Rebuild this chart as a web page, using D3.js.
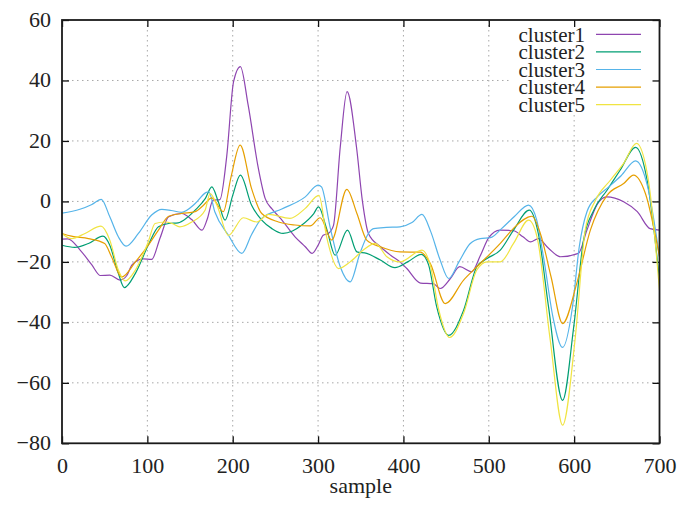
<!DOCTYPE html>
<html>
<head>
<meta charset="utf-8">
<style>
  body { margin: 0; background: #fff; }
  svg text { font-family: "Liberation Serif", serif; fill: #222; }
</style>
</head>
<body>
<div id="chart"></div>
<script src="https://d3js.org/d3.v7.min.js"></script>
<script>
// [sample, value] pairs
const cluster1 = [[0,-12.5],[7,-12.4],[21,-16],[35,-21],[45,-24.5],[56,-24.4],[68,-26],[76,-24.5],[82,-21],[95,-19],[105,-19.2],[115,-12],[125,-5.1],[140,-4],[152,-6],[164,-9.5],[170,-6],[177,0.4],[185,0.6],[193,15],[201,39.6],[209,44.6],[218,32],[230,11],[238,1],[246,-2.5],[256,-5.6],[273,-11.7],[285,-15],[293,-17.2],[300,-14.5],[306,-11.2],[312,-10.6],[318,-8],[326,18],[334,36.3],[345,18],[352,0],[359,-10.6],[373,-15],[385,-17.8],[396,-20],[404,-22.2],[420,-27],[435,-27.2],[443,-28.8],[455,-25.5],[466,-21.6],[480,-23.3],[490,-18],[500,-12],[513,-9.5],[529,-9.7],[540,-11.7],[549,-13.4],[558,-12.3],[570,-15.5],[584,-18.3],[605,-17.2],[615,-9.5],[627,-1],[638,1.5],[658,-0.1],[674,-3.4],[689,-9],[700,-9.5]];
const cluster2 = [[0,-14.5],[15,-15.2],[31,-13.9],[48,-11.5],[56,-14.5],[66,-23.8],[73,-28.5],[86,-23.8],[101,-14.5],[113,-8.4],[125,-7.3],[136,-7.1],[146,-5.5],[156,-2.9],[168,1],[175.5,4.8],[183,0],[191,-6.2],[200,2],[209,8.7],[222,-1.2],[234,-6.2],[246,-9],[259,-10.6],[270,-9.8],[281,-7.8],[295,-4],[300.5,-1.8],[310,-9],[320,-17.8],[334.5,-9.5],[345.5,-16.7],[357,-17.2],[373,-19.4],[390,-21.9],[405,-20],[421,-17.5],[429.5,-21],[439,-34.9],[453,-44.3],[470.5,-36],[486,-21.6],[498,-18.9],[513.5,-16.1],[529,-9.5],[547.5,-2.9],[558,-10.6],[570,-34.9],[586.5,-65.8],[599.5,-41.5],[611,-12.8],[623,-2.9],[638.5,3.7],[654,10.4],[672,17.9],[685.5,7],[700,-26]];
const cluster3 = [[0,-3.9],[21,-2.6],[35,-1],[46,0.7],[56,-5.1],[66,-11.7],[75,-14.8],[89.5,-10.6],[105,-4.5],[117,-2.6],[128,-3],[140,-3.6],[156,-0.7],[169,3],[172,3.2],[179,-3.4],[195,-11.2],[210.6,-17.2],[222,-11],[234,-5.6],[257.5,-2.5],[285,1.5],[300,5.4],[304,4.8],[314,-8.4],[326,-21.6],[337.6,-26.6],[349,-17.2],[359,-10.6],[365,-9],[380,-8.6],[396,-8.4],[410,-7],[421.7,-4.3],[432,-10],[443,-19.4],[453,-25.5],[465,-20],[478,-14],[490,-12.3],[502,-12],[515,-9],[530,-5],[546.7,-1.2],[556,-6],[565,-20],[575,-38],[586.5,-48.3],[598,-35],[606,-15],[615,-3.4],[627,1.5],[640.5,4.8],[655,8.5],[672,13.4],[686,5],[700,-18.3]];
const cluster4 = [[0,-10.6],[11,-11.5],[31,-12.3],[50,-13.9],[58,-18.3],[70,-25],[86,-20],[101,-14.5],[113,-9.5],[125,-4.9],[140,-4],[156,-3.4],[166,-1.2],[175.5,1.2],[189,-3.4],[198,8],[208.7,18.6],[222,4.3],[234,-4],[253.6,-6.8],[273,-7.8],[290.7,-8.1],[302.5,-5.4],[316,-12.8],[333.7,4],[345.5,-4],[357,-12.8],[373,-15],[396,-16.7],[420,-16.8],[431.4,-20.5],[449,-33.8],[470.5,-26],[486,-21.6],[513.5,-13.9],[529,-8.9],[550.6,-4.9],[560.4,-10.6],[573,-25],[586.5,-40.4],[603,-27.2],[619,-9.5],[638.5,2],[658,5.9],[669.7,8.7],[683.5,2.6],[700,-18.3]];
const cluster5 = [[0,-10.6],[11,-12.3],[27,-10.6],[45.7,-8.2],[56,-12.8],[66,-22.7],[74,-26.3],[86,-22.7],[101,-13.4],[109,-7.3],[121,-6.8],[129,-7.3],[138,-8.4],[152,-6.8],[167.6,-2.9],[173.5,2.6],[181.4,-1.2],[195,-11.2],[212.5,-5.4],[228,-6.8],[242,-4.3],[267,-5.6],[285,-2.3],[301,2],[310,-11.7],[324,-22.2],[337.6,-20],[353,-16.1],[367,-13.9],[380.6,-18.3],[396,-20],[421.7,-16.1],[431.4,-21],[441.5,-36],[454,-45],[470.5,-37],[486,-22.7],[498,-20],[513.5,-20],[529,-13.9],[546.7,-6.2],[556.5,-11.7],[572,-45.9],[586.5,-74],[601,-45.9],[613,-9.5],[625,0.4],[642.4,7],[658,12.6],[673,19.2],[687,7],[700,-29.4]];

const seriesNames = ['cluster1', 'cluster2', 'cluster3', 'cluster4', 'cluster5'];
const seriesData = [cluster1, cluster2, cluster3, cluster4, cluster5];
const colors = ['#8e45b0', '#009e73', '#56b4e9', '#e69f00', '#f0e442'];
const xTicks = [0, 100, 200, 300, 400, 500, 600, 700];
const yTicks = [-80, -60, -40, -20, 0, 20, 40, 60];

const width = 679;
const height = 507;
const margin = { top: 20, right: 19.5, bottom: 63.7, left: 62 };

const svg = d3.select('#chart')
  .append('svg')
  .attr('width', width)
  .attr('height', height);

const x = d3.scaleLinear()
  .domain([0, 700])
  .range([margin.left, width - margin.right]);

const y = d3.scaleLinear()
  .domain([-80, 60])
  .range([height - margin.bottom, margin.top]);

const fmt = (d) => (d < 0 ? '\u2212' + Math.abs(d) : String(d));

// dotted grid
const grid = svg.append('g')
  .attr('stroke', '#a8a8a8')
  .attr('stroke-width', 1)
  .attr('stroke-dasharray', '1.5,3.5');

grid.selectAll('.gx')
  .data(xTicks.filter((d) => d > 0 && d < 700))
  .join('line')
  .attr('x1', (d) => x(d)).attr('x2', (d) => x(d))
  .attr('y1', y(60)).attr('y2', y(-80));

grid.selectAll('.gy')
  .data(yTicks.filter((d) => d > -80 && d < 60))
  .join('line')
  .attr('x1', x(0)).attr('x2', x(700))
  .attr('y1', (d) => y(d)).attr('y2', (d) => y(d));

// key box is opaque
svg.append('rect')
  .attr('x', 510).attr('y', 21)
  .attr('width', 148).attr('height', 92)
  .attr('fill', '#fff');

// axes, ticks inward and mirrored
const axisStyle = (g) => {
  g.select('.domain').remove();
  g.selectAll('.tick line').attr('stroke', '#111').attr('stroke-width', 1.3);
  g.selectAll('.tick text')
    .style('font-family', '"Liberation Serif", serif')
    .style('font-size', '22px')
    .attr('fill', '#222');
};

svg.append('g')
  .attr('transform', `translate(0, ${y(-80)})`)
  .call(d3.axisBottom(x).tickValues(xTicks).tickFormat(fmt).tickSizeInner(-7).tickPadding(14))
  .call(axisStyle);

svg.append('g')
  .attr('transform', `translate(0, ${y(60)})`)
  .call(d3.axisTop(x).tickValues(xTicks).tickFormat('').tickSizeInner(-7))
  .call(axisStyle);

svg.append('g')
  .attr('transform', `translate(${x(0)}, 0)`)
  .call(d3.axisLeft(y).tickValues(yTicks).tickFormat(fmt).tickSizeInner(-7).tickPadding(11))
  .call(axisStyle)
  .selectAll('.tick text').attr('dy', '0.28em');

svg.append('g')
  .attr('transform', `translate(${x(700)}, 0)`)
  .call(d3.axisRight(y).tickValues(yTicks).tickFormat('').tickSizeInner(-7))
  .call(axisStyle);

// curves
const line = d3.line()
  .x((d) => x(d[0]))
  .y((d) => y(d[1]))
  .curve(d3.curveMonotoneX);

svg.append('g')
  .attr('fill', 'none')
  .attr('stroke-width', 1.2)
  .selectAll('path')
  .data(seriesData)
  .join('path')
  .attr('stroke', (d, i) => colors[i])
  .attr('d', line);

// border
svg.append('rect')
  .attr('x', x(0)).attr('y', y(60))
  .attr('width', x(700) - x(0))
  .attr('height', y(-80) - y(60))
  .attr('fill', 'none')
  .attr('stroke', '#1a1a1a')
  .attr('stroke-width', 1.8);

// legend
const key = svg.append('g');
seriesNames.forEach((name, i) => {
  const cy = 34.3 + i * 17.6;
  key.append('text')
    .attr('x', 585)
    .attr('y', cy + 7.2)
    .attr('text-anchor', 'end')
    .style('font-size', '21px')
    .text(name);
  key.append('line')
    .attr('x1', 596).attr('x2', 641)
    .attr('y1', cy).attr('y2', cy)
    .attr('stroke', colors[i])
    .attr('stroke-width', 1.2);
});

// axis label
svg.append('text')
  .attr('x', (x(0) + x(700)) / 2)
  .attr('y', 493)
  .attr('text-anchor', 'middle')
  .style('font-size', '22px')
  .text('sample');
</script>
</body>
</html>
